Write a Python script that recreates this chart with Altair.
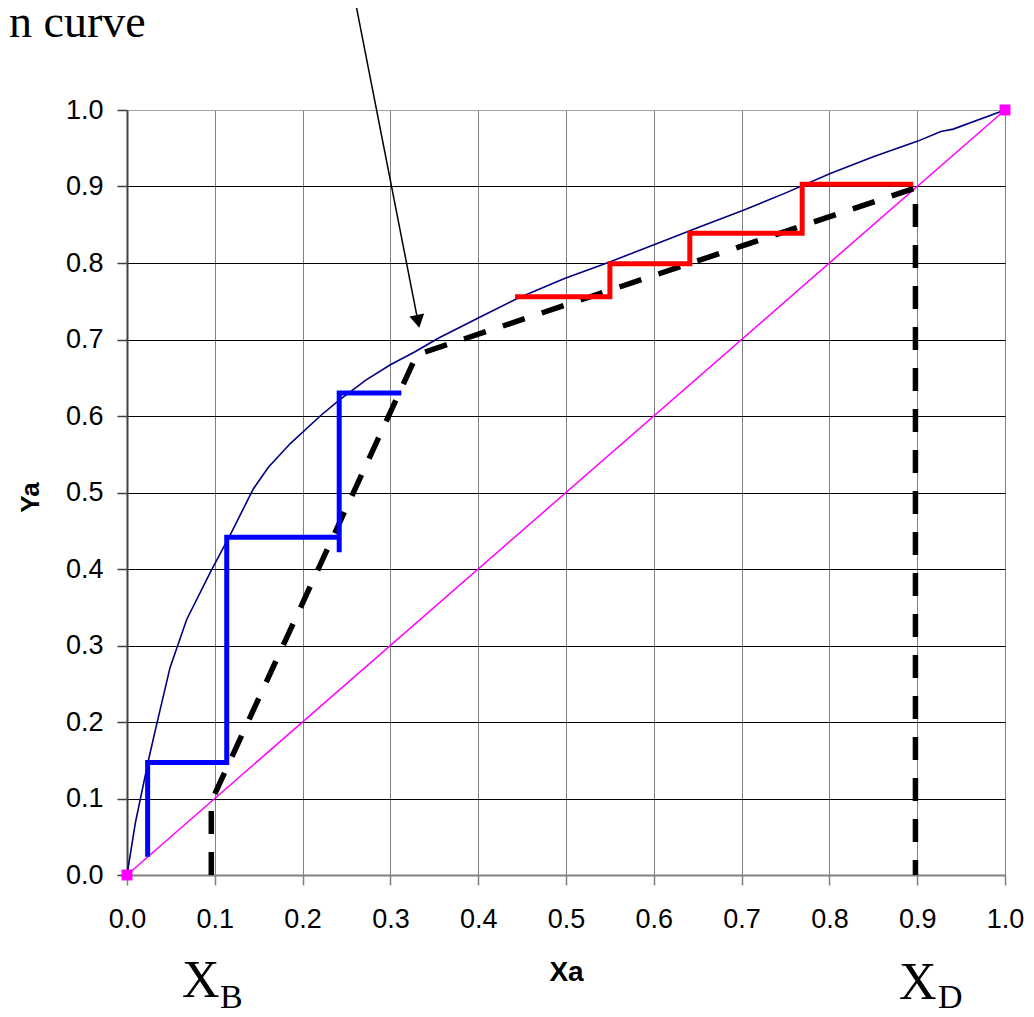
import altair as alt
import pandas as pd

# Equilibrium curve
eq_x = [0.0, 0.0095, 0.0246, 0.032, 0.049, 0.068, 0.095, 0.119, 0.144, 0.161, 0.186,
        0.220, 0.241, 0.272, 0.300, 0.328, 0.355, 0.400, 0.445, 0.499, 0.549, 0.598,
        0.652, 0.702, 0.751, 0.801, 0.850, 0.900, 0.927, 0.941, 1.0]
eq_y = [0.0, 0.068, 0.151, 0.188, 0.271, 0.334, 0.396, 0.448, 0.505, 0.533, 0.564,
        0.600, 0.620, 0.647, 0.667, 0.684, 0.702, 0.728, 0.754, 0.780, 0.801, 0.823,
        0.847, 0.869, 0.892, 0.917, 0.939, 0.959, 0.972, 0.975, 1.0]

# 45-degree line
diag_x = [0.0, 1.0]
diag_y = [0.0, 1.0]

# Operating lines (x_B vertical, stripping line, rectifying line, x_D vertical)
op_x = [0.096, 0.096, 0.330, 0.898, 0.898]
op_y = [0.000, 0.096, 0.680, 0.898, 0.000]

# Stripping-section stages (blue)
strip_x = [0.0235, 0.0235, 0.1136, 0.1136, 0.2417, 0.2417, 0.2417, 0.3125]
strip_y = [0.024, 0.147, 0.147, 0.4416, 0.4416, 0.422, 0.630, 0.630]
strip_seg = [0, 0, 0, 0, 0, 1, 1, 1]

# Rectifying-section stages (red)
rect_x = [0.442, 0.550, 0.550, 0.641, 0.641, 0.769, 0.769, 0.8955]
rect_y = [0.756, 0.756, 0.799, 0.799, 0.839, 0.839, 0.903, 0.903]

# End markers
mark_x = [0.0, 1.0]
mark_y = [0.0, 1.0]

tick_vals = [0.0, 0.1, 0.2, 0.3, 0.4, 0.5, 0.6, 0.7, 0.8, 0.9, 1.0]

W, H = 878, 765
FONT = "Liberation Sans"
SERIF = "Liberation Serif"

def frame(xs, ys, extra=None):
    d = pd.DataFrame({"x": xs, "y": ys, "i": list(range(len(xs)))})
    if extra is not None:
        d["seg"] = extra
    return d

X = alt.X("x:Q",
          scale=alt.Scale(domain=[0, 1], nice=False, zero=False),
          axis=alt.Axis(values=tick_vals, format=".1f", title="Xa",
                        labelFont=FONT, labelFontSize=27, labelColor="black",
                        labelPadding=21, labelOverlap=False, labelFlush=False,
                        tickSize=10, tickColor="#808080", tickWidth=1.5,
                        domainColor="#808080", domainWidth=2,
                        grid=True, gridColor="#808080", gridWidth=1,
                        titleFont=FONT, titleFontSize=28, titleFontWeight="bold",
                        titleColor="black", titleBaseline="middle",
                        titleX=439, titleY=97))
Y = alt.Y("y:Q",
          scale=alt.Scale(domain=[0, 1], nice=False, zero=False),
          axis=alt.Axis(values=tick_vals, format=".1f", title="Ya",
                        labelFont=FONT, labelFontSize=27, labelColor="black",
                        labelPadding=14, labelOverlap=False, labelFlush=False,
                        tickSize=10, tickColor="#404040", tickWidth=1.5,
                        domainColor="#404040", domainWidth=2,
                        grid=True,
                        gridColor={"condition": {"test": "datum.value === 1", "value": "#a0a0a0"},
                                   "value": "#000000"},
                        gridWidth=1,
                        titleFont=FONT, titleFontSize=26, titleFontWeight="bold",
                        titleColor="black", titleBaseline="middle",
                        titleX=-97, titleY=387))

diag = alt.Chart(frame(diag_x, diag_y)).mark_line(color="#ff00ff", strokeWidth=1.5).encode(
    x=X, y=Y, order="i:Q")

eq = alt.Chart(frame(eq_x, eq_y)).mark_line(color="#000080", strokeWidth=1.6).encode(
    x=X, y=Y, order="i:Q")

op = alt.Chart(frame(op_x, op_y)).mark_line(
    color="black", strokeWidth=5.5, strokeDash=[23, 18], strokeJoin="miter").encode(
    x=X, y=Y, order="i:Q")

strip = alt.Chart(frame(strip_x, strip_y, strip_seg)).mark_line(
    color="#0000ff", strokeWidth=5, strokeJoin="miter").encode(
    x=X, y=Y, order="i:Q", detail="seg:N")

rect = alt.Chart(frame(rect_x, rect_y)).mark_line(
    color="#ff0000", strokeWidth=5, strokeJoin="miter").encode(
    x=X, y=Y, order="i:Q")

ends = alt.Chart(frame(mark_x, mark_y)).mark_point(
    shape="square", filled=True, color="#ff00ff", size=120, opacity=1).encode(x=X, y=Y)

# Arrow pointing at the equilibrium curve
arrow_line = alt.Chart(pd.DataFrame({"a": [0]})).mark_rule(color="black", strokeWidth=1.5).encode(
    x=alt.datum(0.2597, scale=alt.Scale(domain=[0, 1], nice=False, zero=False)),
    y=alt.datum(1.1438, scale=alt.Scale(domain=[0, 1], nice=False, zero=False)),
    x2=alt.datum(0.3322), y2=alt.datum(0.7190))
arrow_head = alt.Chart(pd.DataFrame({"a": [0]})).mark_point(
    shape="triangle-down", filled=True, color="black", size=225, angle=348.8, opacity=1).encode(
    x=alt.datum(0.3315), y=alt.datum(0.7238))

label_curve = alt.Chart(pd.DataFrame({"a": [0]})).mark_text(
    text="n curve", font=SERIF, fontSize=46, align="left", baseline="alphabetic",
    color="black").encode(x=alt.value(-118), y=alt.value(-73))

xb_main = alt.Chart(pd.DataFrame({"a": [0]})).mark_text(
    text="X", font=SERIF, fontSize=52, align="left", baseline="alphabetic", color="black").encode(
    x=alt.value(55), y=alt.value(887))
xb_sub = alt.Chart(pd.DataFrame({"a": [0]})).mark_text(
    text="B", font=SERIF, fontSize=34, align="left", baseline="alphabetic", color="black").encode(
    x=alt.value(93), y=alt.value(898))
xd_main = alt.Chart(pd.DataFrame({"a": [0]})).mark_text(
    text="X", font=SERIF, fontSize=52, align="left", baseline="alphabetic", color="black").encode(
    x=alt.value(772), y=alt.value(889))
xd_sub = alt.Chart(pd.DataFrame({"a": [0]})).mark_text(
    text="D", font=SERIF, fontSize=34, align="left", baseline="alphabetic", color="black").encode(
    x=alt.value(811), y=alt.value(898))

chart = alt.layer(
    diag, eq, op, strip, rect, ends, arrow_line, arrow_head,
    label_curve, xb_main, xb_sub, xd_main, xd_sub
).properties(
    width=W, height=H,
    autosize=alt.AutoSizeParams(type="none"),
    padding={"left": 119, "top": 102, "right": 21, "bottom": 142},
    background="white"
).configure_view(stroke=None)

chart.save("out.html", embed_options={"renderer": "svg", "actions": False})
